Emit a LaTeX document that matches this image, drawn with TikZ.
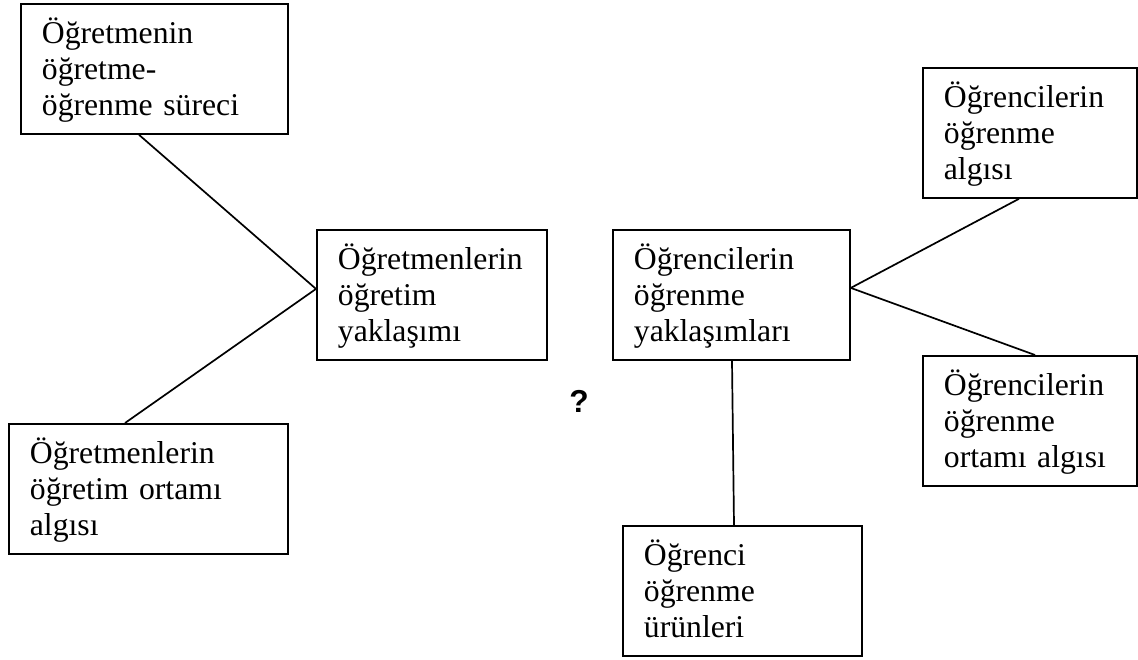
\documentclass[tikz,border=0pt]{standalone}
\usepackage{fontspec}
\setmainfont{Liberation Serif}
\newfontfamily\qfont{Liberation Sans}
\tikzset{
  box/.style={draw=black, line width=1.8pt, rectangle, anchor=north west,
    inner xsep=21pt, inner ysep=0pt, align=left,
    text height=40pt, text depth=90pt,
    font={\fontsize{31.7}{36}\selectfont}},
  link/.style={draw=black, line width=1.7pt}
}
\begin{document}
\begin{tikzpicture}[x=1pt,y=-1pt]
\useasboundingbox (0,0) rectangle (1138,659);
\node[box, text width=225pt] (B1) at (20,3) {Öğretmenin\\öğretme-\\öğrenme süreci};
\node[box, text width=188pt] (B2) at (316,229) {Öğretmenlerin\\öğretim\\yaklaşımı};
\node[box, text width=237pt] (B3) at (8,423) {Öğretmenlerin\\öğretim ortamı\\algısı};
\node[box, text width=195pt] (B4) at (612,229) {Öğrencilerin\\öğrenme\\yaklaşımları};
\node[box, text width=172pt] (B5) at (922,67) {Öğrencilerin\\öğrenme\\algısı};
\node[box, text width=172pt] (B6) at (922,355) {Öğrencilerin\\öğrenme\\ortamı algısı};
\node[box, text width=197pt] (B7) at (622,525) {Öğrenci\\öğrenme\\ürünleri};
\node[font={\qfont\bfseries\fontsize{31.7}{36}\selectfont}, inner sep=0pt] (Q) at (579,401) {?};
\coordinate (J1) at ([yshift=6pt]B2.west);
\coordinate (J2) at ([yshift=7pt]B4.east);
\draw[link] ([xshift=119pt]B1.south west) -- (J1);
\draw[link] ([xshift=117pt]B3.north west) -- (J1);
\draw[link] (J2) -- ([xshift=97pt]B5.south west);
\draw[link] (J2) -- ([xshift=113pt]B6.north west);
\draw[link] ([xshift=120pt]B4.south west) -- ([xshift=112pt]B7.north west);
\end{tikzpicture}
\end{document}
